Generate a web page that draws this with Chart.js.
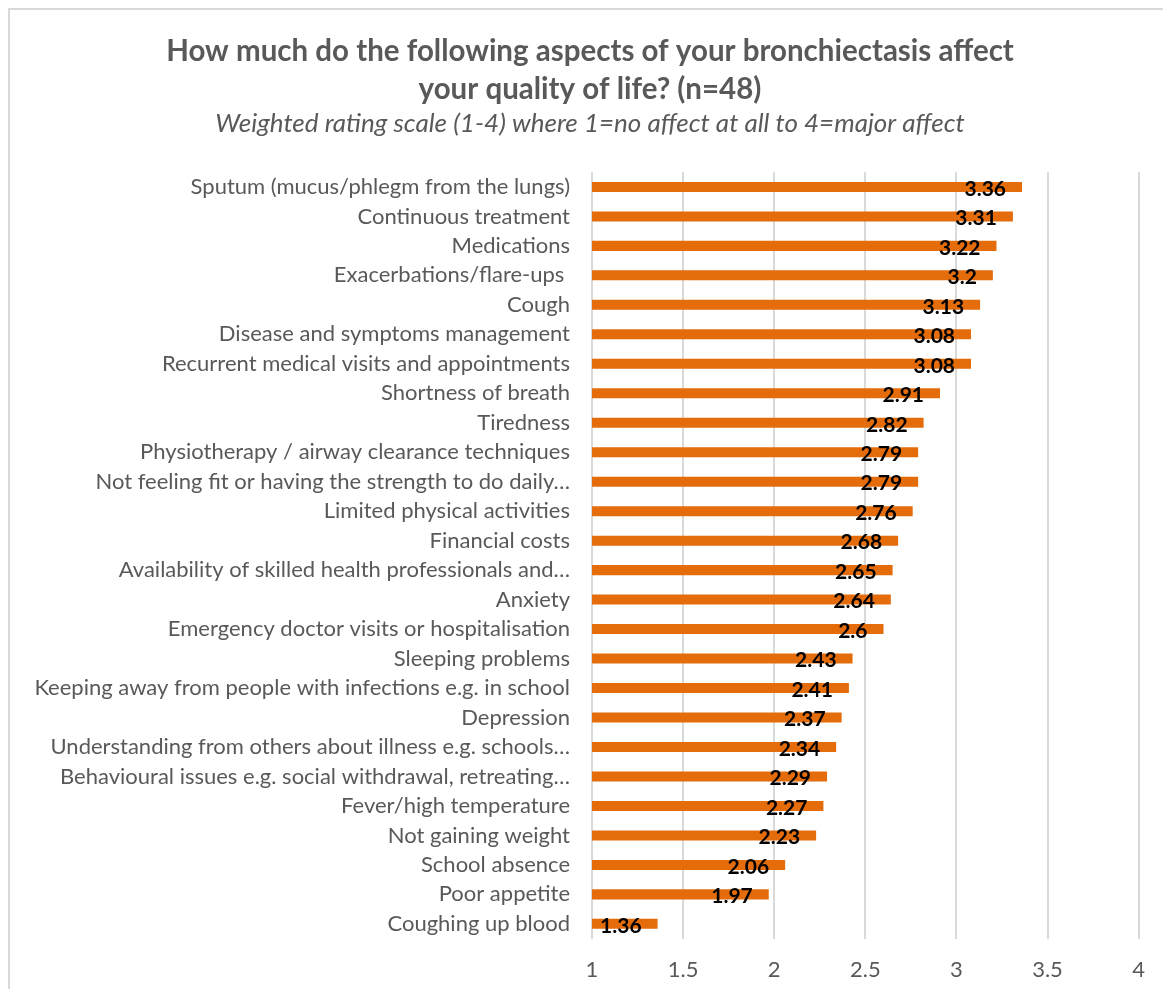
<!DOCTYPE html>
<html>
<head>
<meta charset="utf-8">
<script src="https://cdn.jsdelivr.net/npm/chart.js@4/dist/chart.umd.min.js"></script>
<style>
  html, body { margin: 0; padding: 0; background: #fff; overflow: hidden; }
  .frame {
    position: absolute; left: 8px; top: 8px; width: 1200px; height: 1000px;
    border-left: 2px solid #d9d9d9; border-top: 2px solid #d9d9d9;
  }
  .wrap { position: absolute; left: 10px; top: 10px; width: 1153px; height: 999px; }
</style>
</head>
<body>
<div class="frame"></div>
<div class="wrap"><canvas id="qolChart"></canvas></div>
<script>
// aspects, sorted from highest to lowest weighted score
const aspects = [
  "Sputum (mucus/phlegm from the lungs)",
  "Continuous treatment",
  "Medications",
  "Exacerbations/flare-ups ",
  "Cough",
  "Disease and symptoms management",
  "Recurrent medical visits and appointments",
  "Shortness of breath",
  "Tiredness",
  "Physiotherapy / airway clearance techniques",
  "Not feeling fit or having the strength to do daily…",
  "Limited physical activities",
  "Financial costs",
  "Availability of skilled health professionals and…",
  "Anxiety",
  "Emergency doctor visits or hospitalisation",
  "Sleeping problems",
  "Keeping away from people with infections e.g. in school",
  "Depression",
  "Understanding from others about illness e.g. schools…",
  "Behavioural issues e.g. social withdrawal, retreating…",
  "Fever/high temperature",
  "Not gaining weight",
  "School absence",
  "Poor appetite",
  "Coughing up blood"
];
const scores = [3.36, 3.31, 3.22, 3.2, 3.13, 3.08, 3.08, 2.91, 2.82, 2.79, 2.79, 2.76, 2.68,
  2.65, 2.64, 2.6, 2.43, 2.41, 2.37, 2.34, 2.29, 2.27, 2.23, 2.06, 1.97, 1.36];
const scaleMin = 1;
const scaleMax = 4;
const scaleStep = 0.5;

const FONT = "Lato, 'Liberation Sans', sans-serif";
const GREY = "#595959";

// value labels sit inside the end of each bar
const barValueLabels = {
  id: "barValueLabels",
  afterDatasetsDraw(chart) {
    const ctx = chart.ctx;
    const meta = chart.getDatasetMeta(0);
    ctx.save();
    ctx.font = "bold 21px " + FONT;
    ctx.fillStyle = "#000";
    ctx.textBaseline = "middle";
    ctx.textAlign = "left";
    meta.data.forEach((bar, i) => {
      const txt = String(scores[i]);
      const w = ctx.measureText(txt).width;
      let left = bar.x - 16 - w;
      if (left < bar.base + 10) left = bar.base + 10;
      ctx.fillText(txt, left, bar.y + 2);
    });
    ctx.restore();
  }
};

// nudge title + subtitle a bit right so they centre over the whole box
const titleShift = {
  id: "titleShift",
  afterLayout(chart) {
    chart.boxes.forEach((b) => {
      if (b.position === "top" && !b.axis) b.left += 30;
    });
  }
};

new Chart(document.getElementById("qolChart"), {
  type: "bar",
  data: {
    labels: aspects,
    datasets: [{
      data: scores,
      backgroundColor: "#E46C0A",
      barPercentage: 0.68,
      categoryPercentage: 0.5
    }]
  },
  plugins: [barValueLabels, titleShift],
  options: {
    indexAxis: "y",
    responsive: true,
    maintainAspectRatio: false,
    animation: false,
    layout: { padding: { left: 0, right: 23, top: 0, bottom: 8 } },
    plugins: {
      legend: { display: false },
      tooltip: { enabled: false },
      title: {
        display: true,
        text: ["How much do the following aspects of your bronchiectasis affect", "your quality of life? (n=48)"],
        color: GREY,
        font: { family: FONT, size: 29.5, weight: "bold", lineHeight: 1.288 },
        padding: { top: 22, bottom: 0 }
      },
      subtitle: {
        display: true,
        text: "Weighted rating scale (1-4) where 1=no affect at all to 4=major affect",
        color: GREY,
        font: { family: FONT, size: 26, style: "italic", lineHeight: 1.2 },
        padding: { top: 0, bottom: 33 }
      }
    },
    scales: {
      x: {
        min: scaleMin,
        max: scaleMax,
        ticks: {
          stepSize: scaleStep,
          color: GREY,
          padding: 18,
          font: { family: FONT, size: 22 },
          callback: (v) => String(v)
        },
        grid: { color: "#d9d9d9", lineWidth: 2, drawTicks: false },
        border: { display: false }
      },
      y: {
        afterFit(scale) { scale.width = 582; },
        ticks: {
          color: GREY,
          padding: 22,
          autoSkip: false,
          font: { family: FONT, size: 22 }
        },
        grid: { display: false, drawTicks: false },
        border: { display: false }
      }
    }
  }
});
</script>
</body>
</html>
